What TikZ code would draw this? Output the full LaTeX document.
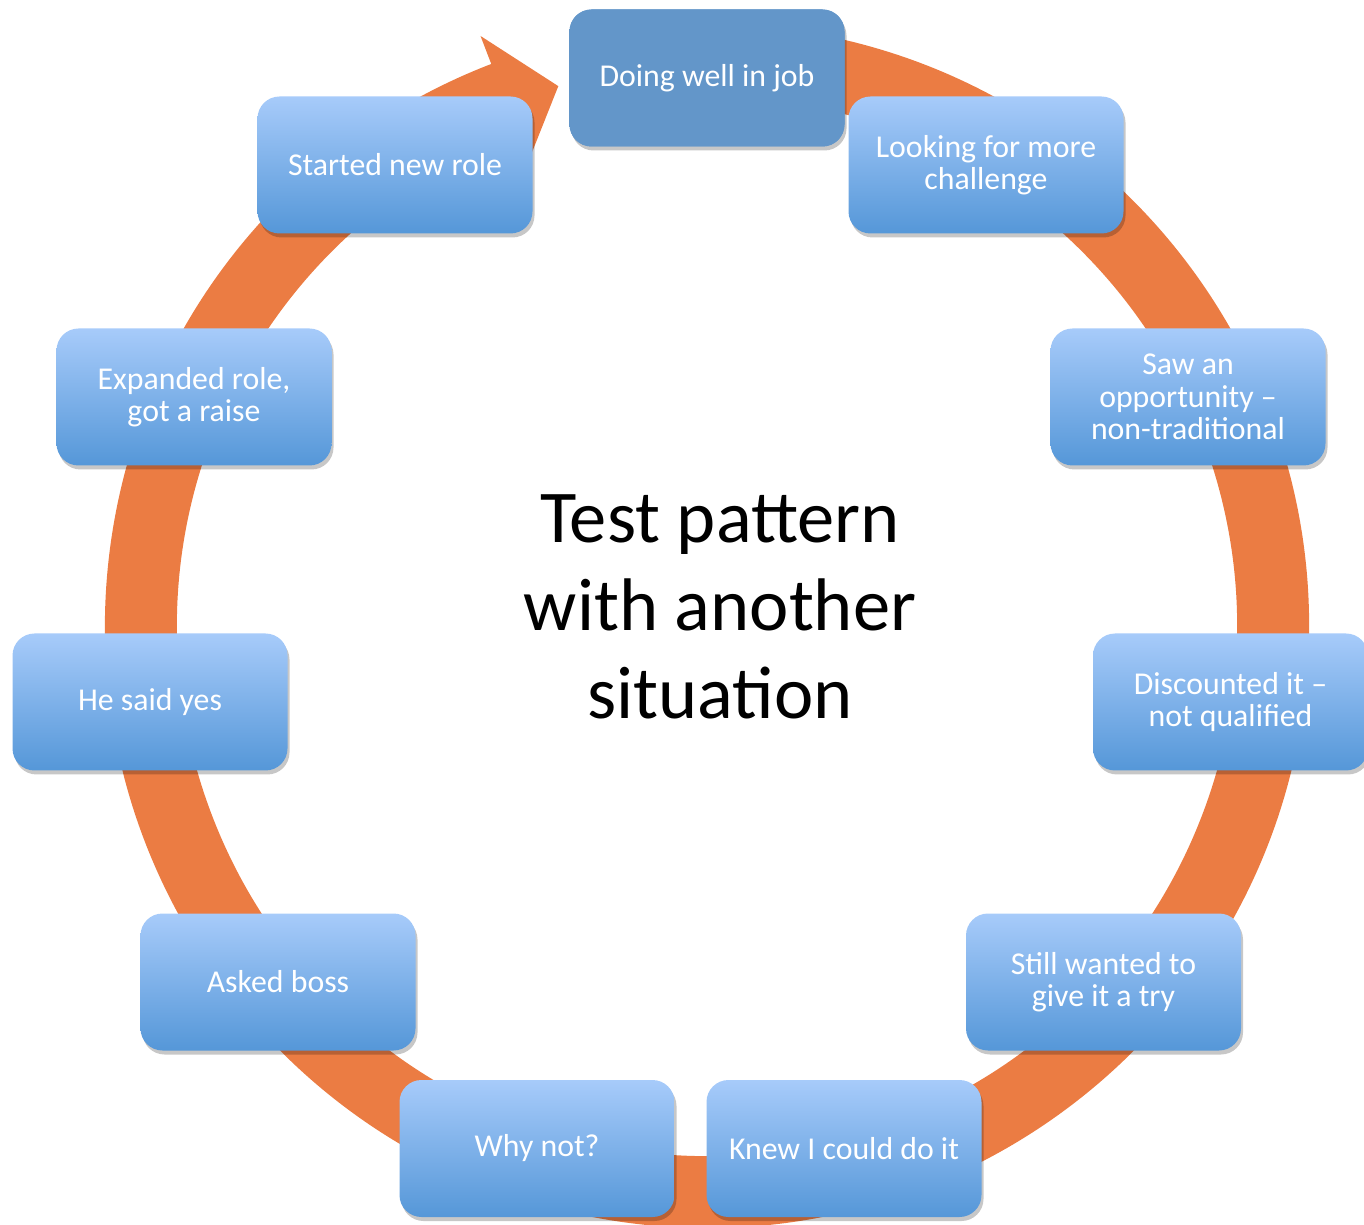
\documentclass[tikz,border=0pt]{standalone}
\usepackage{fontspec}
\setmainfont{Carlito}
\usetikzlibrary{calc,shadows}
\definecolor{ringorange}{HTML}{EB7C43}
\definecolor{boxtop}{HTML}{A7CBFA}
\definecolor{boxbot}{HTML}{5597D8}
\definecolor{boxsolid}{HTML}{6396C9}
\tikzset{
  stepbox/.style={rounded corners=22pt, minimum width=275pt, minimum height=137pt,
    inner sep=2pt, text=white, align=center, font=\fontsize{31.8}{32.5}\selectfont,
    top color=boxtop, bottom color=boxbot, draw=none,
    drop shadow={shadow xshift=2pt, shadow yshift=-4pt, opacity=0.22, fill=black}},
  solidbox/.style={stepbox, top color=boxsolid, bottom color=boxsolid, fill=boxsolid},
}
\begin{document}
\begin{tikzpicture}[x=1pt,y=1pt]
\useasboundingbox (0,0) rectangle (1364,1224);
\coordinate (C) at (707,598);
% ring arrow
\fill[ringorange] ($(C)+(80:602pt)$) arc[start angle=80,end angle=-249,radius=602pt]
  -- ($(C)+(-249:632pt)$) -- ($(C)+(-254.6:560pt)$) -- ($(C)+(-249:498pt)$)
  -- ($(C)+(-249:530pt)$) arc[start angle=-249,end angle=80,radius=530pt] -- cycle;
% centre text
\node[font=\fontsize{74.5}{88}\selectfont, align=center] (title) at (720,617)
  {Test pattern\\with another\\situation};
% boxes
\node[solidbox] (b1) at (707,1146) {Doing well in job};
\node[stepbox] (b2) at (986,1059) {Looking for more\\challenge};
\node[stepbox] (b3) at (1188,827) {Saw an\\opportunity --\\non-traditional};
\node[stepbox] (b4) at (1230.5,522) {Discounted it --\\not qualified};
\node[stepbox] (b5) at (1103.5,242) {Still wanted to\\give it a try};
\node[stepbox] (b6) at (844,75.5) {Knew I could do it};
\node[stepbox] (b7) at (537,75.5) {Why not?};
\node[stepbox] (b8) at (278,242) {Asked boss};
\node[stepbox] (b9) at (150,522) {He said yes};
\node[stepbox] (b10) at (194,827) {Expanded role,\\got a raise};
\node[stepbox] (b11) at (395,1059) {Started new role};
\end{tikzpicture}
\end{document}
